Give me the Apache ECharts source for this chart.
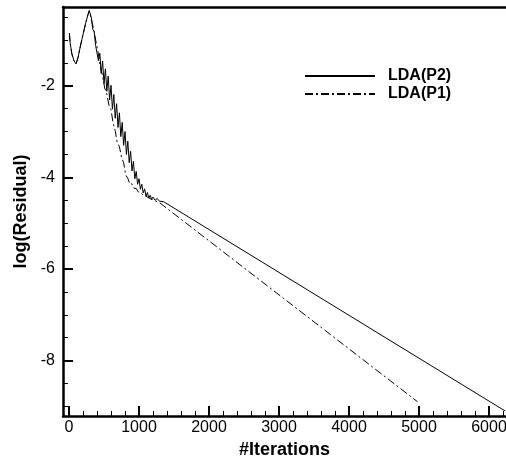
<!DOCTYPE html>
<html>
<head>
<meta charset="utf-8">
<script src="https://cdn.jsdelivr.net/npm/echarts@6/dist/echarts.min.js"></script>
<style>
  html, body { margin: 0; padding: 0; background: #fff; }
  #chart { width: 506px; height: 457px; }
</style>
</head>
<body>
<div id="chart"></div>
<script>
// LDA(P2) - solid line
const iterP2 = [5, 15, 40, 70, 100, 130, 160, 200, 240, 270, 290,
  300, 320, 340, 360, 380, 400, 420, 440, 460, 480, 500, 520, 540, 560, 580,
  600, 620, 640, 660, 680, 700, 720, 740, 760, 780, 800, 820, 840, 860, 880,
  900, 920, 940, 960, 980, 1000, 1020, 1040, 1060, 1080, 1100, 1120, 1140,
  1160, 1180, 1200, 1230, 1260, 1290, 1350, 6230]
const resP2 = [-0.85, -1.05, -1.30, -1.45, -1.52, -1.38, -1.15, -0.88, -0.62, -0.45, -0.36,
  -0.40, -0.52, -0.77, -0.82, -1.12, -1.10, -1.45, -1.29, -1.73, -1.46, -1.95, -1.63, -2.12, -1.79, -2.31,
  -1.99, -2.51, -2.19, -2.71, -2.39, -2.91, -2.59, -3.11, -2.80, -3.30, -3.00, -3.50, -3.21, -3.68, -3.43,
  -3.86, -3.65, -4.03, -3.87, -4.15, -4.03, -4.26, -4.15, -4.34, -4.25, -4.41, -4.33, -4.45,
  -4.39, -4.48, -4.43, -4.50, -4.46, -4.52, -4.53, -9.10]

// LDA(P1) - dash-dot line
const iterP1 = [5, 15, 40, 70, 100, 130, 160, 200, 240, 270, 290,
  300, 330, 360, 390, 420, 450, 480, 510, 540, 570, 600, 630, 660, 690, 720,
  750, 780, 810, 840, 870, 900, 930, 960, 990, 1020, 1060, 1100, 1150, 1200, 1300, 4980]
const resP1 = [-0.85, -1.05, -1.30, -1.45, -1.52, -1.38, -1.15, -0.88, -0.62, -0.45, -0.36,
  -0.40, -0.62, -0.82, -1.08, -1.30, -1.62, -1.78, -2.05, -2.18, -2.42, -2.52, -2.82, -2.98, -3.25, -3.33,
  -3.56, -3.68, -3.95, -4.02, -4.15, -4.14, -4.24, -4.24, -4.32, -4.32, -4.39, -4.41, -4.46, -4.49, -4.56, -8.90]

// ticks
const xMajorTicks = [0, 1000, 2000, 3000, 4000, 5000, 6000]
const xMinorTicks = [0, 200, 400, 600, 800, 1000, 1200, 1400, 1600, 1800, 2000, 2200, 2400, 2600, 2800,
  3000, 3200, 3400, 3600, 3800, 4000, 4200, 4400, 4600, 4800, 5000, 5200, 5400, 5600, 5800, 6000, 6200]
const yMajorTicks = [-8, -6, -4, -2]
const yMinorTicks = [-9, -8.5, -8, -7.5, -7, -6.5, -6, -5.5, -5, -4.5, -4, -3.5, -3, -2.5, -2, -1.5, -1, -0.5]

const font = 'Liberation Sans, Arial, Helvetica, sans-serif'
const X_MIN = -86, X_MAX = 6243
const Y_MIN = -9.21, Y_MAX = -0.28

function zip(xs, ys) {
  return xs.map((x, i) => [x, ys[i]])
}

const chart = echarts.init(document.getElementById('chart'))
const option = {
  animation: false,
  grid: { left: 63, right: 0, top: 7, bottom: 41, containLabel: false, outerBoundsMode: 'none' },
  legend: {
    orient: 'vertical',
    left: 299,
    top: 63,
    itemWidth: 70,
    itemHeight: 14,
    itemGap: 2,
    itemStyle: { opacity: 0 },
    textStyle: { fontFamily: font, fontSize: 16, fontWeight: 'bold', color: '#000', padding: [0, 0, 0, 8] },
    data: ['LDA(P2)', 'LDA(P1)']
  },
  xAxis: [
    {
      type: 'value', position: 'bottom', min: X_MIN, max: X_MAX,
      name: '#Iterations', nameLocation: 'middle', nameGap: 11,
      nameTextStyle: { fontFamily: font, fontSize: 18, fontWeight: 'bold', color: '#000' },
      axisLine: { show: true, onZero: false, lineStyle: { color: '#000', width: 2.5 } },
      axisTick: { show: true, inside: true, length: 10, customValues: xMajorTicks, lineStyle: { color: '#000', width: 2 } },
      axisLabel: { customValues: xMajorTicks, margin: 4, fontFamily: font, fontSize: 16, color: '#000', formatter: v => String(v) },
      splitLine: { show: false }
    },
    {
      type: 'value', position: 'bottom', min: X_MIN, max: X_MAX,
      axisLine: { show: false, onZero: false },
      axisTick: { show: true, inside: true, length: 5, customValues: xMinorTicks, lineStyle: { color: '#000', width: 1 } },
      axisLabel: { show: false },
      splitLine: { show: false }
    },
    {
      type: 'value', position: 'top', min: X_MIN, max: X_MAX,
      axisLine: { show: true, onZero: false, lineStyle: { color: '#000', width: 2.5 } },
      axisTick: { show: false },
      axisLabel: { show: false },
      splitLine: { show: false }
    }
  ],
  yAxis: [
    {
      type: 'value', position: 'left', min: Y_MIN, max: Y_MAX,
      name: 'log(Residual)', nameLocation: 'middle', nameGap: 30,
      nameTextStyle: { fontFamily: font, fontSize: 18, fontWeight: 'bold', color: '#000' },
      axisLine: { show: true, onZero: false, lineStyle: { color: '#000', width: 2.5 } },
      axisTick: { show: true, inside: true, length: 10, customValues: yMajorTicks, lineStyle: { color: '#000', width: 2 } },
      axisLabel: { customValues: yMajorTicks, margin: 8, fontFamily: font, fontSize: 16, color: '#000' },
      splitLine: { show: false }
    },
    {
      type: 'value', position: 'left', min: Y_MIN, max: Y_MAX,
      axisLine: { show: false, onZero: false },
      axisTick: { show: true, inside: true, length: 5, customValues: yMinorTicks, lineStyle: { color: '#000', width: 1 } },
      axisLabel: { show: false },
      splitLine: { show: false }
    }
  ],
  series: [
    {
      name: 'LDA(P2)',
      type: 'line',
      xAxisIndex: 0, yAxisIndex: 0,
      data: zip(iterP2, resP2),
      symbol: 'none',
      itemStyle: { color: '#000' },
      lineStyle: { color: '#000', width: 1, type: 'solid' }
    },
    {
      name: 'LDA(P1)',
      type: 'line',
      xAxisIndex: 0, yAxisIndex: 0,
      data: zip(iterP1, resP1),
      symbol: 'none',
      itemStyle: { color: '#000' },
      lineStyle: { color: '#000', width: 1, type: [8, 3, 2, 3] }
    }
  ]
}
chart.setOption(option)
</script>
</body>
</html>
